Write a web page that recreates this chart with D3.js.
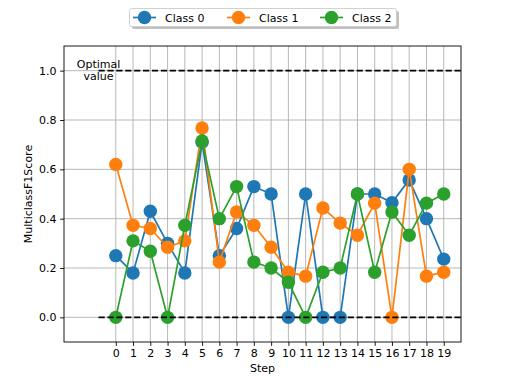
<!DOCTYPE html>
<html lang="en">
<head>
<meta charset="UTF-8">
<title>MulticlassF1Score</title>
<script src="https://cdn.jsdelivr.net/npm/d3@7"></script>
<style>
    body { margin: 0; background: white; }
    svg { font-family: "DejaVu Sans", sans-serif; }
</style>
</head>
<body>
<svg id="chart" width="512" height="384"></svg>
<script>
    // values
    const steps = d3.range(0, 20)
    const classNames = ["Class 0", "Class 1", "Class 2"]
    const class0 = [0.25, 0.18, 0.43, 0.30, 0.18, 0.71, 0.25, 0.36, 0.53, 0.50,
                    0.0, 0.50, 0.0, 0.0, 0.50, 0.50, 0.465, 0.557, 0.40, 0.236]
    const class1 = [0.62, 0.373, 0.36, 0.284, 0.31, 0.768, 0.224, 0.427, 0.373, 0.284,
                    0.183, 0.167, 0.443, 0.382, 0.333, 0.463, 0.0, 0.60, 0.167, 0.183]
    const class2 = [0.0, 0.31, 0.268, 0.0, 0.373, 0.715, 0.40, 0.53, 0.224, 0.20,
                    0.142, 0.0, 0.183, 0.20, 0.50, 0.183, 0.427, 0.333, 0.463, 0.50]
    const yTicks = [0.0, 0.2, 0.4, 0.6, 0.8, 1.0]
    const refLines = [1.0, 0.0]
    const colors = ["#1f77b4", "#ff7f0e", "#2ca02c"]

    const svg = d3.select("#chart")
    const margin = {left: 64, right: 51, top: 46, bottom: 42}
    const W = 512, H = 384

    const x = d3.scaleLinear().domain([-3, 20]).range([margin.left, W - margin.right])
    const y = d3.scaleLinear().domain([-0.1, 1.1]).range([H - margin.bottom, margin.top])

    // grid
    const grid = svg.append("g")
    grid.selectAll("line.v").data(steps).enter().append("line")
        .attr("x1", d => x(d)).attr("x2", d => x(d))
        .attr("y1", y(-0.1)).attr("y2", y(1.1))
        .attr("stroke", "#b0b0b0").attr("stroke-width", 0.9)
    grid.selectAll("line.h").data(yTicks).enter().append("line")
        .attr("y1", d => y(d)).attr("y2", d => y(d))
        .attr("x1", x(-3)).attr("x2", x(20))
        .attr("stroke", "#b0b0b0").attr("stroke-width", 0.9)

    // series
    const series = [class0, class1, class2]
    const line = d3.line().x((d, i) => x(steps[i])).y(d => y(d))
    series.forEach((vals, k) => {
        const g = svg.append("g")
        g.append("path").attr("d", line(vals))
            .attr("fill", "none").attr("stroke", colors[k]).attr("stroke-width", 1.7)
        g.selectAll("circle").data(vals).enter().append("circle")
            .attr("cx", (d, i) => x(steps[i])).attr("cy", d => y(d))
            .attr("r", 6.7).attr("fill", colors[k])
    })

    // dashed reference lines
    svg.selectAll("line.ref").data(refLines).enter().append("line")
        .attr("x1", x(-1)).attr("x2", x(20))
        .attr("y1", d => y(d)).attr("y2", d => y(d))
        .attr("stroke", "black").attr("stroke-width", 1.8)
        .attr("stroke-dasharray", "6.2,2.7")

    const txt = svg.append("text").attr("text-anchor", "middle")
        .attr("font-size", 11).attr("fill", "black")
    txt.append("tspan").attr("x", x(-1)).attr("y", y(1.0) - 3).text("Optimal")
    txt.append("tspan").attr("x", x(-1)).attr("y", y(1.0) + 9).text("value")

    // axes
    const xAxis = d3.axisBottom(x).tickValues(steps).tickSize(3.9).tickPadding(3.5)
    const yAxis = d3.axisLeft(y).tickValues(yTicks).tickFormat(d3.format(".1f"))
        .tickSize(3.9).tickPadding(3.5)
    const gx = svg.append("g").attr("transform", `translate(0,${H - margin.bottom})`).call(xAxis)
    const gy = svg.append("g").attr("transform", `translate(${margin.left},0)`).call(yAxis)
    ;[gx, gy].forEach(g => {
        g.select(".domain").remove()
        g.selectAll("text").attr("font-size", 11).attr("fill", "black")
            .attr("font-family", "DejaVu Sans, sans-serif")
        g.selectAll("line").attr("stroke", "black").attr("stroke-width", 0.9)
    })

    svg.append("rect")
        .attr("x", margin.left).attr("y", margin.top)
        .attr("width", W - margin.left - margin.right)
        .attr("height", H - margin.top - margin.bottom)
        .attr("fill", "none").attr("stroke", "black").attr("stroke-width", 0.9)

    svg.append("text").attr("x", (x(-3) + x(20)) / 2).attr("y", 372)
        .attr("text-anchor", "middle").attr("font-size", 11).text("Step")
    svg.append("text")
        .attr("transform", `translate(32,${(y(-0.1) + y(1.1)) / 2}) rotate(-90)`)
        .attr("text-anchor", "middle").attr("font-size", 11).text("MulticlassF1Score")

    // legend
    const leg = svg.append("g")
    leg.append("rect").attr("x", 132).attr("y", 11).attr("width", 267).attr("height", 18)
        .attr("rx", 2).attr("fill", "#808080").attr("opacity", 0.5)
    leg.append("rect").attr("x", 129.5).attr("y", 8.5).attr("width", 267).attr("height", 18)
        .attr("rx", 2).attr("fill", "white").attr("stroke", "#cccccc").attr("stroke-width", 0.9)
    const legX = [133, 227, 320]
    classNames.forEach((name, k) => {
        const lx = legX[k]
        leg.append("line").attr("x1", lx).attr("x2", lx + 23).attr("y1", 17.5).attr("y2", 17.5)
            .attr("stroke", colors[k]).attr("stroke-width", 1.7)
        leg.append("circle").attr("cx", lx + 11.5).attr("cy", 17.5).attr("r", 6.7)
            .attr("fill", colors[k])
        leg.append("text").attr("x", lx + 32).attr("y", 21.5)
            .attr("font-size", 11).text(name)
    })
</script>
</body>
</html>
